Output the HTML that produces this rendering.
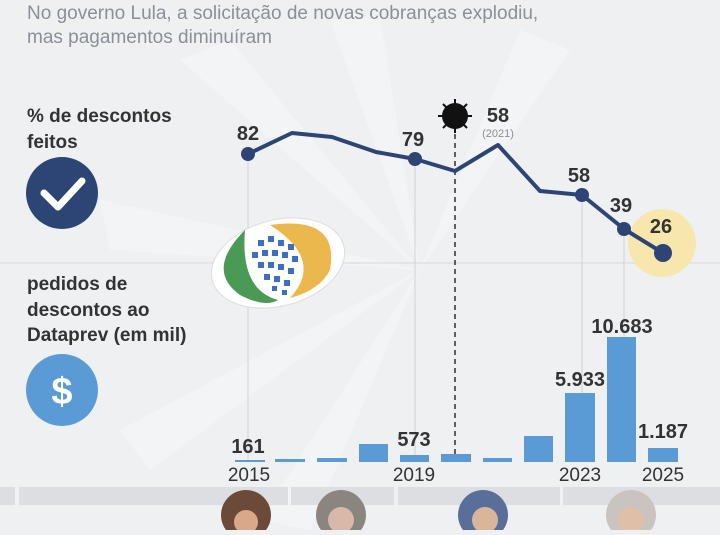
<!DOCTYPE html>
<html><head><meta charset="utf-8"><style>
body{margin:0;width:720px;height:530px;overflow:hidden;background:#eff0f2;font-family:"Liberation Sans",sans-serif}
</style></head><body>
<svg width="720" height="530" xmlns="http://www.w3.org/2000/svg" font-family="Liberation Sans, sans-serif">
<rect width="720" height="530" fill="#eff0f2"/>
<g fill="#f3f4f5">
<polygon points="420,270 180,60 230,40"/><polygon points="420,270 330,20 380,15"/><polygon points="420,270 520,30 570,50"/><polygon points="420,270 100,200 110,250"/><polygon points="420,270 120,430 150,470"/><polygon points="420,270 260,520 310,530"/>
</g>
<line x1="0" y1="263" x2="720" y2="263" stroke="#d6d8db" stroke-width="1"/>
<g stroke="#d0d2d5" stroke-width="1">
<line x1="248" y1="154" x2="248" y2="462"/><line x1="415" y1="159" x2="415" y2="462"/><line x1="582" y1="195" x2="582" y2="462"/><line x1="624" y1="229" x2="624" y2="462"/>
</g>
<line x1="455" y1="125" x2="455" y2="462" stroke="#111" stroke-width="1.3" stroke-dasharray="5,4"/>
<circle cx="662" cy="243" r="34" fill="#f8e7ad"/>
<text x="27" y="19" font-size="19" fill="#8a9098">No governo Lula, a solicitação de novas cobranças  explodiu,</text>
<text x="27" y="43" font-size="19" fill="#8a9098">mas pagamentos diminuíram</text>
<text x="27" y="122" font-size="19" font-weight="bold" fill="#333">% de descontos</text>
<text x="27" y="148" font-size="19" font-weight="bold" fill="#333">feitos</text>
<circle cx="62" cy="193" r="36" fill="#2c4574"/>
<polyline points="44,193 58,207 82,181" fill="none" stroke="#fff" stroke-width="7" stroke-linecap="round" stroke-linejoin="round"/>
<text x="27" y="290" font-size="19" font-weight="bold" fill="#333">pedidos de</text>
<text x="27" y="316" font-size="19" font-weight="bold" fill="#333">descontos ao</text>
<text x="27" y="341" font-size="19" font-weight="bold" fill="#333">Dataprev (em mil)</text>
<circle cx="62" cy="390" r="36" fill="#5b9bd5"/>
<text x="62" y="404" font-size="38" font-weight="bold" fill="#fff" text-anchor="middle">$</text>
<g>
<ellipse cx="278" cy="263" rx="68" ry="43" fill="#fff" stroke="#ddd" transform="rotate(-15 278 263)"/>
<path d="M245 230 Q205 270 240 295 Q265 308 278 300 Q240 290 245 230Z" fill="#4a9a55"/>
<path d="M270 225 Q340 215 330 270 Q320 290 290 298 Q325 260 270 225Z" fill="#eab84c"/>
<g fill="#3b6fc4">
<rect x="258" y="240" width="6" height="6"/><rect x="268" y="236" width="6" height="6"/><rect x="278" y="240" width="6" height="6"/><rect x="288" y="244" width="6" height="6"/><rect x="252" y="252" width="6" height="6"/><rect x="262" y="250" width="6" height="6"/><rect x="272" y="250" width="6" height="6"/><rect x="282" y="252" width="6" height="6"/><rect x="292" y="256" width="6" height="6"/><rect x="258" y="262" width="6" height="6"/><rect x="268" y="262" width="6" height="6"/><rect x="278" y="264" width="6" height="6"/><rect x="288" y="268" width="6" height="6"/><rect x="264" y="274" width="6" height="6"/><rect x="274" y="276" width="6" height="6"/><rect x="284" y="280" width="6" height="6"/><rect x="272" y="286" width="5" height="5"/><rect x="282" y="290" width="5" height="5"/>
</g></g>
<polyline points="248,154 292,133 332,137 376,152 415,159 455,171 498,145 540,191 582,195 624,229 663,253" fill="none" stroke="#2c4574" stroke-width="4" stroke-linejoin="round"/>
<g fill="#2c4574"><circle cx="248" cy="154" r="7"/><circle cx="415" cy="159" r="7"/><circle cx="582" cy="195" r="7"/><circle cx="624" cy="229" r="7"/><circle cx="663" cy="253" r="9"/></g>
<g font-size="20" font-weight="bold" fill="#333" text-anchor="middle">
<text x="248" y="140">82</text><text x="413" y="146">79</text><text x="498" y="122">58</text><text x="579" y="182">58</text><text x="621" y="212">39</text><text x="661" y="233">26</text>
</g>
<text x="498" y="137" font-size="11" fill="#8a9098" text-anchor="middle">(2021)</text>
<circle cx="455" cy="116" r="13" fill="#111"/>
<g stroke="#111" stroke-width="2"><line x1="455" y1="99" x2="455" y2="133"/><line x1="438" y1="116" x2="472" y2="116"/><line x1="443" y1="104" x2="467" y2="128"/><line x1="467" y1="104" x2="443" y2="128"/></g>
<g fill="#5b9bd5">
<rect x="235" y="460" width="30" height="2"/><rect x="275" y="459" width="30" height="3"/><rect x="317" y="458" width="30" height="4"/><rect x="359" y="444" width="29" height="18"/><rect x="400" y="455" width="29" height="7"/><rect x="441" y="454" width="30" height="8"/><rect x="483" y="458" width="29" height="4"/><rect x="524" y="436" width="29" height="26"/><rect x="565" y="393" width="30" height="69"/><rect x="607" y="337" width="29" height="125"/><rect x="648" y="448" width="30" height="14"/>
</g>
<g font-size="20" font-weight="bold" fill="#333" text-anchor="middle">
<text x="248" y="453">161</text><text x="414" y="446">573</text><text x="580" y="386">5.933</text><text x="622" y="333">10.683</text><text x="663" y="438">1.187</text>
</g>
<g font-size="19" fill="#333" text-anchor="middle">
<text x="249" y="481">2015</text><text x="414" y="481">2019</text><text x="580" y="481">2023</text><text x="663" y="481">2025</text>
</g>
<g fill="#dcdee1">
<rect x="0" y="487" width="15" height="18"/><rect x="19" y="487" width="269" height="18"/><rect x="291" y="487" width="103" height="18"/><rect x="398" y="487" width="162" height="18"/><rect x="563" y="487" width="157" height="18"/>
</g>
<g>
<circle cx="246" cy="515" r="25" fill="#6b4a3a"/><circle cx="341" cy="515" r="25" fill="#8b8580"/><circle cx="483" cy="515" r="25" fill="#5a6e9a"/><circle cx="631" cy="515" r="25" fill="#c9c4c0"/>
<circle cx="246" cy="522" r="12" fill="#d9a88a"/><circle cx="341" cy="520" r="13" fill="#d8b8a8"/><circle cx="485" cy="520" r="13" fill="#d9b59a"/><circle cx="631" cy="520" r="13" fill="#e0bfa8"/>
</g>
</svg>
</body></html>
